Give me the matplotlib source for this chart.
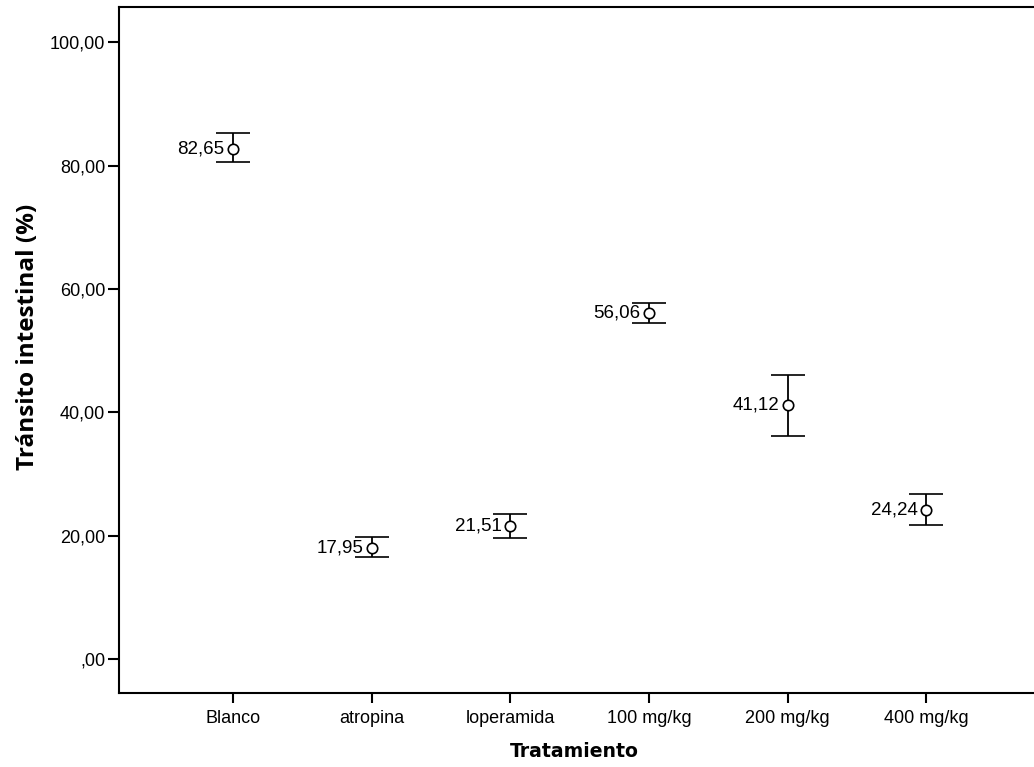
import matplotlib
matplotlib.use("Agg")
import matplotlib.pyplot as plt
import numpy as np

categories = ["Blanco", "atropina", "loperamida", "100 mg/kg", "200 mg/kg", "400 mg/kg"]
means = [82.65, 17.95, 21.51, 56.06, 41.12, 24.24]
upper = [85.2, 19.8, 23.45, 57.65, 46.0, 26.7]
lower = [80.5, 16.5, 19.55, 54.4, 36.2, 21.8]
mean_labels = ["82,65", "17,95", "21,51", "56,06", "41,12", "24,24"]
yticks = [0, 20, 40, 60, 80, 100]
ytick_labels = [",00", "20,00", "40,00", "60,00", "80,00", "100,00"]

plt.rcParams['font.family'] = ['Liberation Sans', 'DejaVu Sans']

fig = plt.figure(figsize=(10.34, 7.67), dpi=100)
ax = fig.add_axes([119/1034, 74/767, (1040-119)/1034, (693-7)/767])

x = np.arange(len(categories))
m = np.array(means)
yerr = np.vstack([m - np.array(lower), np.array(upper) - m])
ax.errorbar(x, m, yerr=yerr, fmt='o', mfc='white', mec='black', color='black',
            markersize=7.5, mew=1.2, elinewidth=1.3, capsize=12, capthick=1.3, zorder=3)

for xi, mi, lab in zip(x, means, mean_labels):
    ax.annotate(lab, (xi, mi), xytext=(-6, 0), textcoords='offset points',
                ha='right', va='center', fontsize=13.5)

ax.set_xlim(-0.8225, 5.82)
ax.set_ylim(-5.5, 105.7)
ax.set_xticks(x)
ax.set_xticklabels(categories, fontsize=13)
ax.set_yticks(yticks)
ax.set_yticklabels(ytick_labels, fontsize=13)
ax.tick_params(axis='y', direction='out', length=8, width=1.5, pad=2)
ax.tick_params(axis='x', direction='out', length=7, width=1.5, pad=5)
for s in ax.spines.values():
    s.set_linewidth(1.5)

ax.set_xlabel("Tratamiento", fontsize=13.6, fontweight='bold', family='DejaVu Sans')
ax.set_ylabel("Tránsito intestinal (%)", fontsize=17.5, fontweight='bold', family='Open Sans')
ax.xaxis.set_label_coords(0.494, -0.072)
ax.yaxis.set_label_coords(-0.086, 0.519)

fig.savefig("out.png", dpi=100)
